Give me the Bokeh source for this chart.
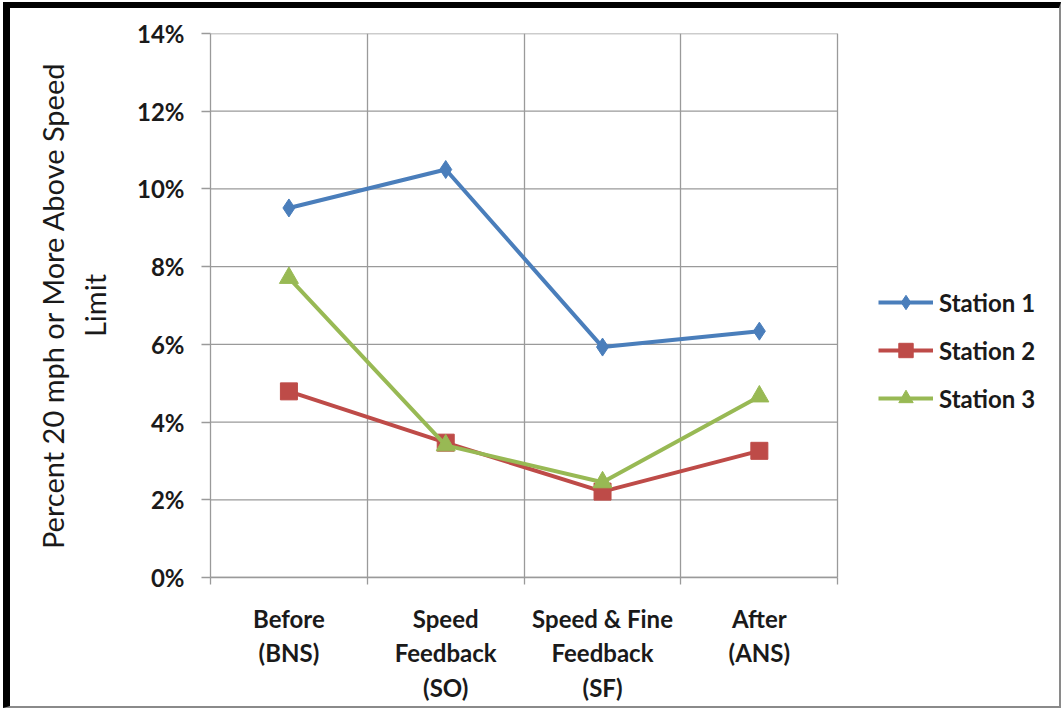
import numpy as np
from bokeh.plotting import figure
from bokeh.models import FixedTicker, NumeralTickFormatter, Range1d
from bokeh.embed import file_html
from bokeh.resources import INLINE

# ---- data ----
categories = ["Before\n(BNS)", "Speed\nFeedback\n(SO)", "Speed & Fine\nFeedback\n(SF)", "After\n(ANS)"]
series_names = ["Station 1", "Station 2", "Station 3"]
station1 = [0.0951, 0.1050, 0.0593, 0.0634]
station2 = [0.0479, 0.0347, 0.0221, 0.0326]
station3 = [0.0771, 0.0340, 0.0245, 0.0466]
y_ticks = [0.0, 0.02, 0.04, 0.06, 0.08, 0.10, 0.12, 0.14]

colors = ["#4A7EBB", "#BE4B48", "#98B954"]
markers = ["diamond", "square", "triangle"]
msizes = [18, 17, 19]

# ---- layout (pixels) ----
W, H = 1049, 698
BL, BT, BR, BB = 200, 25, 19, 137      # borders around the frame
FRAME_W = 840                          # frame width incl. legend room
CAT_PX = 157                           # width of one category in pixels
FONT = "Lato"
GRID = "#9a9a9a"
TXT = "#1a1a1a"

n = len(categories)
xs = [i + 0.5 for i in range(n)]
bounds = list(range(n + 1))
x_end = FRAME_W / CAT_PX   # extra room on the right for the legend

p = figure(width=W, height=H, output_backend="svg", toolbar_location=None,
           x_range=Range1d(0, x_end), y_range=Range1d(0, y_ticks[-1]),
           min_border_left=BL, min_border_top=BT, min_border_right=BR, min_border_bottom=BB)
p.outline_line_color = None
p.background_fill_color = "white"
p.border_fill_color = "white"
p.styles = {"box-sizing": "content-box", "margin-left": "3px", "margin-top": "2px",
            "border-top": "6px solid black", "border-left": "7px solid black",
            "border-right": "2px solid #8a8a8a", "border-bottom": "2px solid #8a8a8a"}

# grid: vertical lines at category boundaries, horizontal lines only across the categories
p.xgrid.ticker = FixedTicker(ticks=bounds)
p.xgrid.grid_line_color = GRID
p.xgrid.grid_line_width = 1.3
p.ygrid.grid_line_color = None
p.segment(x0=[bounds[0]] * len(y_ticks), x1=[bounds[-1]] * len(y_ticks), y0=y_ticks, y1=y_ticks,
          line_color=GRID, line_width=1.3)

# x axis
xa = p.xaxis[0]
xa.bounds = (bounds[0], bounds[-1])
xa.ticker = FixedTicker(ticks=xs, minor_ticks=bounds)
xa.major_label_overrides = {x: c for x, c in zip(xs, categories)}
xa.major_tick_line_color = None
xa.major_tick_out = 0
xa.major_tick_in = 0
xa.minor_tick_line_color = GRID
xa.minor_tick_out = 7
xa.minor_tick_in = 0
xa.minor_tick_line_width = 1.3
xa.axis_line_color = GRID
xa.axis_line_width = 1.3
xa.major_label_standoff = 19
xa.major_label_text_font = FONT
xa.major_label_text_font_style = "bold"
xa.major_label_text_font_size = "24px"
xa.major_label_text_color = TXT

# y axis
ya = p.yaxis[0]
ya.ticker = FixedTicker(ticks=y_ticks)
ya.formatter = NumeralTickFormatter(format="0%")
ya.minor_tick_line_color = None
ya.major_tick_line_color = GRID
ya.major_tick_line_width = 1.3
ya.major_tick_out = 9
ya.major_tick_in = 0
ya.axis_line_color = GRID
ya.axis_line_width = 1.3
ya.major_label_standoff = 17
ya.major_label_text_font = FONT
ya.major_label_text_font_style = "bold"
ya.major_label_text_font_size = "24px"
ya.major_label_text_color = TXT
ya.axis_label = "Percent 20 mph or More Above Speed\nLimit"
ya.axis_label_text_font = FONT
ya.axis_label_text_font_style = "normal"
ya.axis_label_text_font_size = "29px"
ya.axis_label_text_color = TXT
ya.axis_label_standoff = 22

for name, vals, c, m, s in zip(series_names, [station1, station2, station3], colors, markers, msizes):
    p.line(xs, vals, line_color=c, line_width=4, legend_label=name)
    p.scatter(xs, vals, marker=m, size=s, fill_color=c, line_color=c, legend_label=name)

lg = p.legend[0]
lg.location = (668, 161)
lg.border_line_color = None
lg.background_fill_alpha = 0
lg.padding = 0
lg.margin = 0
lg.glyph_width = 55
lg.glyph_height = 36
lg.label_height = 20
lg.spacing = 12
lg.label_standoff = 6
lg.label_text_font = FONT
lg.label_text_font_style = "bold"
lg.label_text_font_size = "24px"
lg.label_text_color = TXT

open("out.html", "w").write(file_html(p, INLINE))
